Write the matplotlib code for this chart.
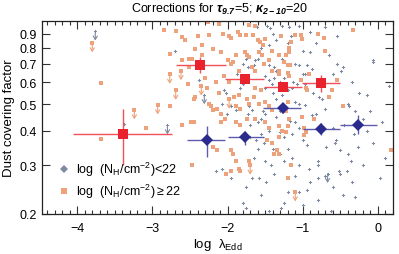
import numpy as np
import matplotlib
matplotlib.use('Agg')
import matplotlib.pyplot as plt
from matplotlib.lines import Line2D
from matplotlib.ticker import FixedLocator, MultipleLocator, NullLocator

plt.rcParams['font.family'] = ['Liberation Sans', 'DejaVu Sans']
plt.rcParams['mathtext.fontset'] = 'custom'
plt.rcParams['mathtext.rm'] = 'Liberation Sans'
plt.rcParams['mathtext.it'] = 'Liberation Sans:italic'
plt.rcParams['mathtext.bf'] = 'Liberation Sans:bold:italic'

# individual sources, log(NH) >= 22 (orange)
hi_x = [-3.68, -3.68, -3.09, -2.61, -2.48, -2.84, -2.69, -2.61, -2.57, -2.39,
        -2.77, -2.61, -2.44, -2.48, -2.52, -2.51, -2.53, -2.44, -2.45, -2.76,
        -2.34, -2.25, -2.26, -2.11, -2.06, -1.98, -1.96, -1.86, -1.83, -1.75,
        -1.72, -1.64, -1.66, -1.60, -1.57, -1.53, -1.50, -2.34, -2.20, -2.09,
        -2.00, -1.89, -1.77, -1.74, -1.71, -1.58, -1.54, -1.41, -1.96, -1.93,
        -1.85, -1.67, -1.63, -1.52, -1.45, -1.41, -2.25, -2.22, -2.20, -2.14,
        -2.09, -1.92, -1.85, -1.89, -1.83, -1.74, -1.72, -1.65, -1.58, -1.50,
        -1.45, -1.41, -1.63, -1.56, -1.29, -1.10, -1.02, -1.01, -1.16, -1.18,
        -1.19, -1.22, -1.32, -0.80, -0.72, -0.33, -0.70, -1.25, -1.20, -1.17,
        -1.31, -1.32, -1.20, -1.19, -1.02, -0.92, -0.55, -0.96, -0.94, -0.61,
        -0.65, -1.20, -0.47, -1.01, -1.22, -2.09, -2.03, -1.89, -1.83, -1.74,
        -1.63, -1.50, -1.45, -2.49, -2.45, -2.20, -2.14, -1.96, -1.93, -1.89,
        -2.02, -1.96, -1.85, -1.83, -1.72, -1.47, -1.41, -1.38, -1.31, -1.20,
        -1.27, -1.22, -1.31, -1.34, -1.32, -1.18, -0.98, -0.96, -0.99, -0.85,
        -1.16, -1.20, 0.17, -2.30, -2.15, -2.05, -2.28, -2.12, -1.98]
hi_y = [0.597, 0.373, 0.41, 0.42, 0.30, 0.93, 0.92, 0.875, 0.85, 0.88,
        0.757, 0.72, 0.79, 0.73, 0.726, 0.68, 0.59, 0.53, 0.52, 0.49,
        0.82, 0.89, 0.99, 0.976, 0.90, 0.88, 0.87, 0.91, 0.89, 0.89,
        0.97, 0.96, 0.89, 0.85, 0.84, 0.82, 0.86, 0.75, 0.79, 0.77,
        0.72, 0.75, 0.77, 0.75, 0.74, 0.77, 0.75, 0.78, 0.70, 0.71,
        0.66, 0.68, 0.66, 0.70, 0.72, 0.66, 0.50, 0.49, 0.476, 0.48,
        0.46, 0.53, 0.54, 0.49, 0.48, 0.52, 0.50, 0.53, 0.50, 0.51,
        0.49, 0.476, 0.57, 0.56, 0.88, 0.89, 0.89, 0.86, 0.84, 0.80,
        0.77, 0.75, 0.75, 0.90, 0.87, 0.93, 0.78, 0.71, 0.69, 0.69,
        0.66, 0.64, 0.65, 0.63, 0.61, 0.64, 0.61, 0.57, 0.56, 0.56,
        0.53, 0.51, 0.49, 0.45, 0.47, 0.43, 0.44, 0.43, 0.42, 0.44,
        0.44, 0.43, 0.41, 0.43, 0.43, 0.35, 0.34, 0.34, 0.33, 0.31,
        0.28, 0.285, 0.29, 0.285, 0.31, 0.37, 0.36, 0.33, 0.417, 0.415,
        0.40, 0.395, 0.38, 0.34, 0.33, 0.44, 0.41, 0.395, 0.385, 0.44,
        0.30, 0.27, 0.34, 0.62, 0.60, 0.63, 0.57, 0.55, 0.60]
# upper limits, log(NH) >= 22
hi_lim_x = [-3.80, -3.24, -2.93, -2.77, -2.62, -2.69, -2.35, -1.98, -1.70, -1.10]
hi_lim_y = [0.832, 0.476, 0.496, 0.64, 0.66, 0.56, 0.58, 0.52, 0.30, 0.24]

# individual sources, log(NH) < 22 (grey)
lo_x = [-3.38, -2.70, -2.38, -1.61, -1.47, -1.44, -1.87, -1.80, -1.75, -1.73,
        -1.65, -1.63, -1.60, -1.45, -1.38, -2.05, -2.02, -1.83, -1.80, -1.45,
        -1.41, -1.38, -2.07, -1.96, -1.89, -1.72, -1.67, -1.53, -1.50, -2.01,
        -1.73, -1.28, -1.19, -1.16, -0.83, -1.00, -0.91, -1.27, -1.26, -1.10,
        -1.05, -0.95, -0.88, -1.00, -0.97, -0.47, -0.49, -0.06, -0.07, -1.13,
        -1.08, -0.97, -0.87, -0.78, -0.74, -0.14, -0.40, -0.38, -0.30, -1.10,
        -1.05, -0.97, -0.70, -0.82, -0.88, -0.56, -0.57, -0.69, -0.51, -0.40,
        -0.36, -0.80, -0.80, -0.52, -0.50, -0.41, -0.27, -0.07, 0.03, -0.47,
        -0.80, -1.29, -2.16, -2.07, -1.96, -1.67, -1.58, -1.49, -1.75, -1.80,
        -1.56, -1.17, -1.10, -1.05, -1.30, -1.15, -1.25, -1.00, -0.95, -1.20,
        -1.30, -1.15, -1.25, -1.05, -0.92, -1.10, -0.80, -0.70, -1.20, -1.05,
        -0.95, -1.45, -1.55, -1.62, -1.70, -1.52, -1.60, -1.40, -1.65, -1.50,
        -1.42, -1.38, -1.70, -1.60, -1.55, -1.35, -1.30, -1.35, -1.28, -1.20,
        -1.15, -1.40, -1.50, -1.30, -1.25, -1.50, -1.35, -1.55, -1.45, -1.35,
        -1.40, -1.20, -0.60, -0.55, -0.65, -0.35, -0.25, -0.20, -0.10, 0.05,
        -0.15, -0.45, -0.60, -0.32, 0.10, 0.15, -0.55, -0.90, -0.70, -1.05,
        -1.75, -1.45, -1.00, -0.60, -0.35, -0.20, -0.90, -1.25, -0.62, -0.30]
lo_y = [0.423, 0.778, 0.61, 0.95, 0.96, 0.94, 0.64, 0.70, 0.73, 0.68,
        0.69, 0.72, 0.73, 0.69, 0.68, 0.56, 0.55, 0.57, 0.59, 0.61,
        0.59, 0.62, 0.50, 0.49, 0.476, 0.49, 0.476, 0.47, 0.46, 0.46,
        0.46, 0.96, 0.95, 0.88, 0.83, 0.78, 0.77, 0.73, 0.71, 0.70,
        0.69, 0.69, 0.67, 0.64, 0.645, 0.68, 0.66, 0.72, 0.71, 0.60,
        0.59, 0.59, 0.55, 0.53, 0.52, 0.54, 0.50, 0.49, 0.47, 0.51,
        0.50, 0.495, 0.48, 0.46, 0.455, 0.37, 0.36, 0.35, 0.34, 0.33,
        0.31, 0.31, 0.30, 0.285, 0.28, 0.285, 0.35, 0.36, 0.27, 0.235,
        0.225, 0.21, 0.285, 0.29, 0.27, 0.27, 0.27, 0.26, 0.25, 0.22,
        0.235, 0.435, 0.43, 0.41, 0.395, 0.39, 0.38, 0.37, 0.355, 0.345,
        0.33, 0.32, 0.31, 0.30, 0.29, 0.275, 0.27, 0.275, 0.24, 0.24,
        0.245, 0.40, 0.39, 0.37, 0.38, 0.36, 0.345, 0.345, 0.32, 0.31,
        0.30, 0.28, 0.42, 0.43, 0.44, 0.45, 0.47, 0.52, 0.54, 0.56,
        0.57, 0.55, 0.57, 0.60, 0.62, 0.63, 0.66, 0.80, 0.82, 0.85,
        0.90, 0.83, 0.64, 0.70, 0.75, 0.60, 0.55, 0.44, 0.47, 0.43,
        0.40, 0.42, 0.41, 0.39, 0.32, 0.58, 0.88, 0.91, 0.95, 0.96,
        0.21, 0.205, 0.215, 0.25, 0.26, 0.30, 0.26, 0.22, 0.205, 0.23]
lo_lim_x = [-3.76, -2.80, -2.31, -0.67]
lo_lim_y = [0.918, 0.42, 0.54, 0.28]

# binned averages
red_x = [-3.39, -2.37, -1.77, -1.26, -0.76]
red_xlo = [-4.05, -2.69, -2.03, -1.52, -1.01]
red_xhi = [-2.74, -2.02, -1.52, -1.01, -0.51]
red_y = [0.389, 0.694, 0.618, 0.575, 0.595]
red_ylo = [0.30, 0.65, 0.603, 0.558, 0.555]
red_yhi = [0.48, 0.74, 0.633, 0.592, 0.635]

blue_x = [-2.27, -1.77, -1.26, -0.76, -0.26]
blue_xlo = [-2.535, -2.00, -1.53, -1.00, -0.51]
blue_xhi = [-2.03, -1.52, -1.02, -0.51, -0.01]
blue_y = [0.370, 0.381, 0.484, 0.405, 0.42]
blue_ylo = [0.322, 0.356, 0.465, 0.385, 0.39]
blue_yhi = [0.418, 0.398, 0.50, 0.426, 0.455]

c_hi = '#eda27c'
c_lo = '#7d8aa0'
c_red = '#e8232d'
c_redbar = '#f0505a'
c_blue = '#2b2b8e'
c_bluebar = '#5c5cae'

fig = plt.figure(figsize=(3.99, 2.55), dpi=100)
ax = fig.add_axes([0.105, 0.157, 0.880, 0.757])

ax.plot(lo_x, lo_y, ls='none', marker='P', ms=2.3, mew=0, color=c_lo, zorder=2)
ax.plot(hi_x, hi_y, ls='none', marker='s', ms=2.2, mew=0, color=c_hi, zorder=2)

for xs, ys, c, m in [(hi_lim_x, hi_lim_y, c_hi, 's'), (lo_lim_x, lo_lim_y, c_lo, 'P')]:
    ax.plot(xs, ys, ls='none', marker=m, ms=2.2, mew=0, color=c, zorder=2)
    for x, y in zip(xs, ys):
        ax.annotate('', xy=(x, y * 0.925), xytext=(x, y),
                    arrowprops=dict(arrowstyle='->,head_length=0.25,head_width=0.15',
                                    color=c, lw=0.8, shrinkA=0, shrinkB=0), zorder=2)

red_x = np.array(red_x); red_y = np.array(red_y)
ax.errorbar(red_x, red_y,
            xerr=[red_x - np.array(red_xlo), np.array(red_xhi) - red_x],
            yerr=[red_y - np.array(red_ylo), np.array(red_yhi) - red_y],
            fmt='s', ms=7.5, color=c_red, ecolor=c_redbar, elinewidth=1.0,
            capsize=2.5, capthick=1.0, mew=0, zorder=4)

blue_x = np.array(blue_x); blue_y = np.array(blue_y)
ax.errorbar(blue_x, blue_y,
            xerr=[blue_x - np.array(blue_xlo), np.array(blue_xhi) - blue_x],
            yerr=[blue_y - np.array(blue_ylo), np.array(blue_yhi) - blue_y],
            fmt='D', ms=6.5, color=c_blue, ecolor=c_bluebar, elinewidth=1.0,
            capsize=2.5, capthick=1.0, mew=0, zorder=4)

ax.set_yscale('log')
ax.set_xlim(-4.47, 0.2)
ax.set_ylim(0.2, 1.0)
ax.yaxis.set_major_locator(FixedLocator([0.2, 0.3, 0.4, 0.5, 0.6, 0.7, 0.8, 0.9]))
ax.yaxis.set_minor_locator(NullLocator())
ax.set_yticklabels(['0.2', '0.3', '0.4', '0.5', '0.6', '0.7', '0.8', '0.9'])
ax.set_xticks([-4, -3, -2, -1, 0])
ax.set_xticklabels(['\u22124', '\u22123', '\u22122', '\u22121', '0'])
ax.xaxis.set_minor_locator(MultipleLocator(0.1))
ax.tick_params(which='both', direction='in', top=True, right=True, labelsize=9,
               width=0.8, color='#333333')
ax.tick_params(which='major', length=6)
ax.tick_params(which='minor', length=3)
ax.tick_params(axis='x', pad=6)
for s in ax.spines.values():
    s.set_linewidth(0.9)
    s.set_color('#222222')

ax.set_xlabel(r'log  $\mathregular{\lambda_{Edd}}$', fontsize=9.5, labelpad=1)
ax.set_ylabel('Dust covering factor', fontsize=9.5, labelpad=3)
fig.text(0.55, 0.935,
         r'Corrections for $\mathbf{\tau_{9.7}}$=5; $\mathbf{\kappa_{2-10}}$=20',
         ha='center', va='bottom', fontsize=9)

handles = [Line2D([], [], ls='none', marker='D', ms=4, mew=0, color=c_lo),
           Line2D([], [], ls='none', marker='s', ms=5, mew=0, color=c_hi)]
labels = [r'log  (N$_\mathregular{H}$/cm$^\mathregular{-2}$)<22',
          r'log  (N$_\mathregular{H}$/cm$^\mathregular{-2}$)$\geq$22']
ax.legend(handles, labels, loc='lower left', bbox_to_anchor=(0.02, 0.02), frameon=False,
          fontsize=9, handlelength=0.8, handletextpad=0.6, labelspacing=0.3,
          borderpad=0.3)

fig.savefig('out.png', dpi=100)
